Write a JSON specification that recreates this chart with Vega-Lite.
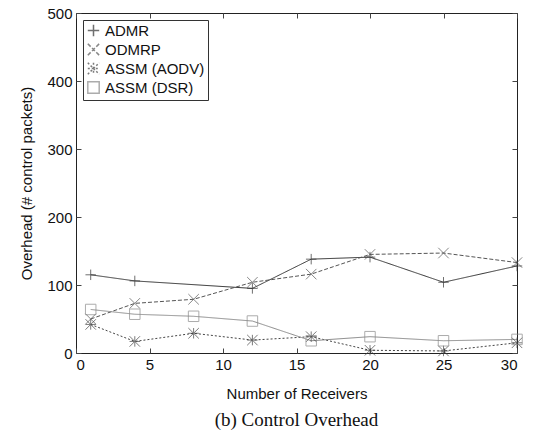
{
  "$schema": "https://vega.github.io/schema/vega-lite/v6.json",
  "autosize": "none",
  "width": 441,
  "height": 340,
  "padding": {"left": 76, "top": 13, "right": 34, "bottom": 79},
  "background": "white",
  "config": {
    "font": "Liberation Sans",
    "view": {"stroke": "#222", "strokeWidth": 1},
    "axis": {"grid": false, "domain": false, "tickColor": "#444", "tickSize": -5, "labelFontSize": 15, "labelColor": "#111", "titleFontSize": 15, "titleFontWeight": "normal", "titleColor": "#111", "labelPadding": 9}
  },
  "title": {"text": "(b) Control Overhead", "orient": "bottom", "font": "Liberation Serif", "fontSize": 19, "fontWeight": "normal", "color": "#111", "offset": 10},
  "data": {"values": [
    {"series": "ADMR", "x": 1, "y": 115},
    {"series": "ADMR", "x": 4, "y": 106},
    {"series": "ADMR", "x": 12, "y": 95},
    {"series": "ADMR", "x": 16, "y": 138},
    {"series": "ADMR", "x": 20, "y": 141},
    {"series": "ADMR", "x": 25, "y": 104},
    {"series": "ADMR", "x": 30, "y": 128},
    {"series": "ODMRP", "x": 1, "y": 50},
    {"series": "ODMRP", "x": 4, "y": 73},
    {"series": "ODMRP", "x": 8, "y": 79},
    {"series": "ODMRP", "x": 12, "y": 104},
    {"series": "ODMRP", "x": 16, "y": 116},
    {"series": "ODMRP", "x": 20, "y": 145},
    {"series": "ODMRP", "x": 25, "y": 147},
    {"series": "ODMRP", "x": 30, "y": 133},
    {"series": "ASSM (AODV)", "x": 1, "y": 42},
    {"series": "ASSM (AODV)", "x": 4, "y": 17},
    {"series": "ASSM (AODV)", "x": 8, "y": 29},
    {"series": "ASSM (AODV)", "x": 12, "y": 19},
    {"series": "ASSM (AODV)", "x": 16, "y": 24},
    {"series": "ASSM (AODV)", "x": 20, "y": 4},
    {"series": "ASSM (AODV)", "x": 25, "y": 3},
    {"series": "ASSM (AODV)", "x": 30, "y": 15},
    {"series": "ASSM (DSR)", "x": 1, "y": 64},
    {"series": "ASSM (DSR)", "x": 4, "y": 57},
    {"series": "ASSM (DSR)", "x": 8, "y": 54},
    {"series": "ASSM (DSR)", "x": 12, "y": 47},
    {"series": "ASSM (DSR)", "x": 16, "y": 18},
    {"series": "ASSM (DSR)", "x": 20, "y": 24},
    {"series": "ASSM (DSR)", "x": 25, "y": 18},
    {"series": "ASSM (DSR)", "x": 30, "y": 20}
  ]},
  "resolve": {"axis": {"x": "independent", "y": "independent"}},
  "layer": [
    {
      "mark": {"type": "line", "strokeWidth": 1},
      "encoding": {
        "x": {"field": "x", "type": "quantitative", "scale": {"domain": [0, 30], "nice": false}, "axis": {"values": [0,5,10,15,20,25,30], "title": "Number of Receivers", "titlePadding": 14}},
        "y": {"field": "y", "type": "quantitative", "scale": {"domain": [0, 500], "nice": false}, "axis": {"values": [0,100,200,300,400,500], "title": "Overhead (# control packets)", "titlePadding": 12}},
        "color": {"field": "series", "type": "nominal", "sort": ["ADMR", "ODMRP", "ASSM (AODV)", "ASSM (DSR)"], "scale": {"domain": ["ADMR", "ODMRP", "ASSM (AODV)", "ASSM (DSR)"], "range": ["#333333", "#555555", "#444444", "#8a8a8a"]},
          "legend": {"title": null, "orient": "top-left", "offset": 7, "labelFontSize": 15, "labelColor": "#111", "strokeColor": "#333", "padding": 3, "symbolSize": 130, "symbolType": "stroke", "rowPadding": 0, "fillColor": "white", "labelLimit": 200}},
        "strokeDash": {"field": "series", "type": "nominal", "sort": ["ADMR", "ODMRP", "ASSM (AODV)", "ASSM (DSR)"], "scale": {"domain": ["ADMR", "ODMRP", "ASSM (AODV)", "ASSM (DSR)"], "range": [[1, 0], [4, 2], [2, 2], [1, 0]]}}
      }
    },
    {
      "mark": {"type": "point", "filled": false, "size": 110, "strokeWidth": 1},
      "encoding": {
        "x": {"field": "x", "type": "quantitative", "axis": null},
        "y": {"field": "y", "type": "quantitative", "axis": null},
        "color": {"field": "series", "type": "nominal", "sort": ["ADMR", "ODMRP", "ASSM (AODV)", "ASSM (DSR)"], "scale": {"domain": ["ADMR", "ODMRP", "ASSM (AODV)", "ASSM (DSR)"], "range": ["#333333", "#555555", "#444444", "#8a8a8a"]}},
        "shape": {"field": "series", "type": "nominal", "sort": ["ADMR", "ODMRP", "ASSM (AODV)", "ASSM (DSR)"], "scale": {"domain": ["ADMR", "ODMRP", "ASSM (AODV)", "ASSM (DSR)"], "range": ["M-1,0L1,0M0,-1L0,1", "M-1,-1L1,1M-1,1L1,-1", "M-1,-1L1,1M-1,1L1,-1M-1,0L1,0M0,-1L0,1", "square"]}}
      }
    },
    {
      "mark": {"type": "point", "opacity": 0},
      "encoding": {
        "x": {"field": "x", "type": "quantitative", "axis": {"orient": "top", "values": [0,5,10,15,20,25,30], "labels": false, "title": null}},
        "y": {"field": "y", "type": "quantitative", "axis": {"orient": "right", "values": [0,100,200,300,400,500], "labels": false, "title": null}}
      }
    }
  ]
}
